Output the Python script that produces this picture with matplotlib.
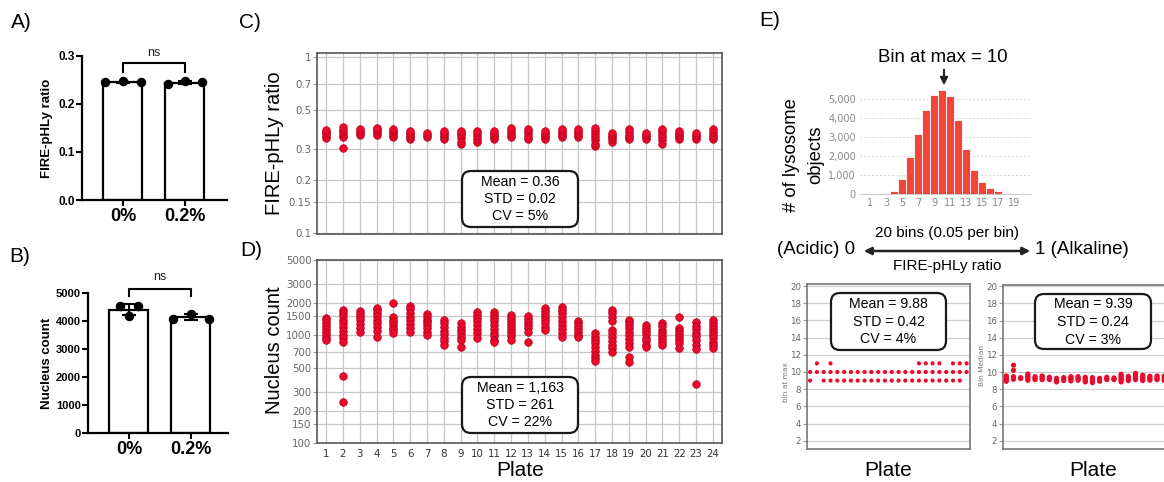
import matplotlib
matplotlib.use("Agg")
import matplotlib.pyplot as plt
from matplotlib.patches import FancyBboxPatch, FancyArrowPatch
from matplotlib.ticker import NullLocator, FuncFormatter
import numpy as np

# ---------------------------------------------------------------- data
bar_groups = ["0%", "0.2%"]
ratio_points = [[0.245, 0.247, 0.245], [0.241, 0.247, 0.245]]
nucleus_points = [[4520, 4170, 4520], [4070, 4260, 4080]]

plates = list(range(1, 25))

plate_ratio = [
    [0.345, 0.355, 0.365, 0.375, 0.383],
    [0.302, 0.35, 0.36, 0.372, 0.385, 0.398],
    [0.36, 0.368, 0.377, 0.388],
    [0.36, 0.37, 0.38, 0.39, 0.395],
    [0.35, 0.36, 0.37, 0.38, 0.39],
    [0.34, 0.35, 0.36, 0.37, 0.38],
    [0.35, 0.36, 0.37],
    [0.34, 0.35, 0.36, 0.37, 0.38],
    [0.32, 0.33, 0.345, 0.36, 0.37, 0.38],
    [0.33, 0.34, 0.355, 0.37, 0.38],
    [0.34, 0.35, 0.36, 0.37, 0.38],
    [0.35, 0.36, 0.37, 0.385, 0.395],
    [0.34, 0.35, 0.365, 0.38, 0.39],
    [0.34, 0.35, 0.36, 0.37, 0.38],
    [0.35, 0.36, 0.37, 0.38, 0.39],
    [0.35, 0.36, 0.37, 0.38, 0.39],
    [0.31, 0.32, 0.335, 0.35, 0.365, 0.38, 0.395],
    [0.33, 0.34, 0.35, 0.36, 0.37],
    [0.34, 0.35, 0.36, 0.375, 0.39],
    [0.34, 0.35, 0.36, 0.37],
    [0.32, 0.335, 0.35, 0.365, 0.38, 0.39],
    [0.34, 0.35, 0.36, 0.37, 0.38],
    [0.34, 0.35, 0.36, 0.37],
    [0.34, 0.35, 0.36, 0.375, 0.39],
]

plate_nuclei = [
    [1450, 1380, 1300, 1220, 1150, 1080, 1000, 950, 900],
    [1700, 1600, 1500, 1400, 1300, 1200, 1100, 1000, 950, 870, 420, 240],
    [1680, 1580, 1480, 1380, 1280, 1180, 1080],
    [1800, 1700, 1600, 1500, 1400, 1300, 1200, 1100, 960],
    [2000, 1480, 1400, 1320, 1250, 1180, 1110, 1050],
    [1870, 1750, 1600, 1480, 1380, 1280, 1180, 1080],
    [1560, 1480, 1400, 1320, 1240, 1160, 1080, 1000],
    [1400, 1300, 1200, 1100, 1020, 950, 880, 810],
    [1290, 1200, 1120, 1040, 960, 900, 780],
    [1630, 1550, 1450, 1350, 1250, 1150, 1050, 950],
    [1650, 1550, 1450, 1350, 1250, 1150, 1060, 980, 900, 870],
    [1540, 1450, 1360, 1280, 1200, 1120, 1050, 980, 900],
    [1500, 1420, 1330, 1250, 1170, 1080, 870],
    [1780, 1680, 1580, 1480, 1380, 1290, 1200, 1110],
    [1830, 1720, 1600, 1480, 1360, 1250, 1150, 1050, 970],
    [1370, 1300, 1220, 1150, 1080, 1010, 955],
    [1040, 970, 900, 840, 780, 720, 660, 610, 580],
    [1710, 1600, 1480, 1370, 1110, 1040, 960, 890, 820, 760, 700],
    [1400, 1320, 1240, 1160, 1080, 1000, 920, 850, 780, 630, 565],
    [1250, 1170, 1090, 1020, 950, 880, 820, 780],
    [1290, 1210, 1130, 1060, 990, 920, 860, 810],
    [1470, 1180, 1100, 1030, 960, 900, 840, 770],
    [1330, 1230, 1140, 1060, 980, 900, 820, 740, 350],
    [1390, 1300, 1220, 1140, 1070, 1000, 940, 870, 810, 770],
]

hist_bins = list(range(1, 21))
hist_counts = [5, 10, 30, 150, 800, 1916, 3150, 4410, 5210, 5470,
               5120, 3870, 2350, 1270, 610, 314, 140, 52, 20, 15]

plate_bin_at_max = [
    [9, 10], [10, 11], [9, 10], [9, 10, 11], [9, 10], [9, 10], [9, 10], [9, 10],
    [9, 10], [9, 10], [9, 10], [9, 10], [9, 10], [9, 10], [9, 10], [9, 10],
    [9, 10, 11], [9, 10, 11], [9, 10, 11], [9, 10, 11], [9, 10], [9, 10, 11],
    [9, 10, 11], [10, 11],
]

plate_bin_median = [
    [8.93, 9.08, 9.23, 9.38, 9.55],
    [9.16, 9.3, 9.47, 10.2, 10.8],
    [9.24, 9.36],
    [9.05, 9.2, 9.35, 9.5, 9.65, 9.78],
    [9.12, 9.28, 9.47],
    [9.12, 9.27, 9.41, 9.55],
    [9.12, 9.26, 9.4],
    [8.85, 9.0, 9.14, 9.28],
    [9.01, 9.18, 9.36],
    [8.97, 9.1, 9.23, 9.35, 9.47],
    [9.05, 9.19, 9.33, 9.47],
    [8.85, 9.0, 9.12, 9.26, 9.4],
    [8.77, 8.92, 9.07, 9.22, 9.36],
    [8.93, 9.1, 9.28],
    [9.12, 9.26, 9.4],
    [9.12, 9.22, 9.32],
    [8.85, 9.0, 9.15, 9.3, 9.45, 9.6, 9.74],
    [9.01, 9.18, 9.35, 9.51],
    [9.12, 9.26, 9.4, 9.55, 9.7, 9.86],
    [9.01, 9.16, 9.32, 9.48, 9.63],
    [9.05, 9.2, 9.36, 9.51],
    [9.12, 9.26, 9.41, 9.55],
    [9.01, 9.18, 9.36, 9.55],
    [9.1, 9.3, 9.5],
]

ratio_stats = ["Mean = 0.36", "STD = 0.02", "CV = 5%"]
nuclei_stats = ["Mean = 1,163", "STD = 261", "CV = 22%"]
binmax_stats = ["Mean = 9.88", "STD = 0.42", "CV = 4%"]
median_stats = ["Mean = 9.39", "STD = 0.24", "CV = 3%"]

# ---------------------------------------------------------------- layout
W, H = 1164, 482
fig = plt.figure(figsize=(W / 100, H / 100), dpi=100)
SANS = ["Liberation Sans", "DejaVu Sans"]
TICKF = "DejaVu Sans"
RED = "#ec0a2c"
RED_EDGE = "#b5001c"
GRID = "#c6c6c6"
TICKGRAY = "#666666"


def px_axes(l, t, r, b):
    return fig.add_axes([l / W, 1 - b / H, (r - l) / W, (b - t) / H])


def ftext(x, y, s, **kw):
    kw.setdefault("family", SANS)
    kw.setdefault("ha", "center")
    kw.setdefault("va", "center")
    return fig.text(x / W, 1 - y / H, s, **kw)


def stat_box(l, t, r, b, lines, ys, size=10.2):
    box = FancyBboxPatch(((l) / 100, (H - b) / 100), (r - l) / 100, (b - t) / 100,
                         boxstyle="round,pad=0,rounding_size=0.09",
                         transform=fig.dpi_scale_trans, facecolor="white",
                         edgecolor="#1a1a1a", linewidth=1.6, zorder=20)
    fig.add_artist(box)
    cx = (l + r) / 2
    for s, y in zip(lines, ys):
        ftext(cx, y, s, fontsize=size, zorder=21)


# ---------------------------------------------------------------- A / B bar panels
def bar_panel(rect, points, jitter, ylim, yticks, yticklabels, ytick_size, ylabel, ylab_xy,
              bracket, ns_y, xlim):
    ax = px_axes(*rect)
    xs = np.arange(len(points))
    means = [np.mean(p) for p in points]
    sds = [np.std(p, ddof=1) for p in points]
    ax.bar(xs, means, width=0.63, color="white", edgecolor="black", linewidth=1.6, zorder=1)
    ax.errorbar(xs, means, yerr=sds, fmt="none", ecolor="black", elinewidth=1.5,
                capsize=5, capthick=1.5, zorder=3)
    for x, p, jit in zip(xs, points, jitter):
        ax.scatter(x + np.array(jit), p, s=34, color="black", zorder=4, clip_on=False)
    ax.set_xlim(*xlim)
    ax.set_ylim(*ylim)
    for side in ("top", "right"):
        ax.spines[side].set_visible(False)
    for side in ("left", "bottom"):
        ax.spines[side].set_linewidth(1.6)
    ax.set_yticks(yticks)
    ax.set_yticklabels(yticklabels, fontsize=ytick_size, fontweight="bold", family=SANS)
    ax.set_xticks(xs)
    ax.set_xticklabels(bar_groups, fontsize=13, fontweight="bold", family=SANS)
    ax.tick_params(axis="both", width=1.5, length=4, direction="out")
    ax.tick_params(axis="y", pad=1)
    ax.tick_params(axis="x", pad=2)
    b0, b1 = bracket
    ax.plot([0, 0, 1, 1], [b0, b1, b1, b0], color="black", lw=1.5, clip_on=False)
    ax.text(0.5, ns_y, "ns", ha="center", va="center", fontsize=9, family=SANS, color="#222")
    ftext(ylab_xy[0], ylab_xy[1], ylabel, rotation=90, fontsize=9.5, fontweight="bold")
    return ax


bar_panel((82, 56, 227, 200), ratio_points,
          [[-0.29, 0.0, 0.29], [-0.27, 0.0, 0.27]],
          (0, 0.3), [0, 0.1, 0.2, 0.3], ["0.0", "0.1", "0.2", "0.3"], 8.5,
          "FIRE-pHLy ratio", (47, 128), (0.267, 0.285), 0.306, (-0.66, 1.68))

bar_panel((88, 293, 228, 433), nucleus_points,
          [[-0.14, 0.0, 0.14], [-0.29, 0.0, 0.29]],
          (0, 5000), [0, 1000, 2000, 3000, 4000, 5000],
          ["0", "1000", "2000", "3000", "4000", "5000"], 8,
          "Nucleus count", (47, 363), (4893, 5143), 5571, (-0.66, 1.6))

# ---------------------------------------------------------------- C / D plate panels
def plate_panel(rect, data, ylim, yticks, yticklabels, show_x):
    ax = px_axes(*rect)
    ax.set_yscale("log")
    for p, vals in zip(plates, data):
        ax.scatter([p] * len(vals), vals, s=30, color=RED, edgecolor=RED_EDGE,
                   linewidth=0.5, zorder=3)
    ax.set_xlim(0.46, 24.54)
    ax.set_ylim(*ylim)
    ax.set_yticks(yticks)
    ax.set_yticklabels(yticklabels, fontsize=7.4, family=TICKF, color=TICKGRAY)
    ax.yaxis.set_minor_locator(NullLocator())
    ax.set_xticks(plates)
    if show_x:
        ax.set_xticklabels([str(p) for p in plates], fontsize=7.4, family=TICKF, color="#333")
    else:
        ax.set_xticklabels([])
    ax.tick_params(axis="x", length=0, pad=4)
    ax.tick_params(axis="y", length=3, color="#999", pad=1)
    ax.grid(True, color=GRID, linewidth=0.9)
    ax.set_axisbelow(True)
    for s in ax.spines.values():
        s.set_color("#555")
        s.set_linewidth(1.2)
    return ax


plate_panel((317, 53, 722, 234), plate_ratio, (0.0983, 1.054),
            [0.1, 0.15, 0.2, 0.3, 0.5, 0.7, 1], ["0.1", "0.15", "0.2", "0.3", "0.5", "0.7", "1"],
            False)
plate_panel((317, 260, 722, 443), plate_nuclei, (100, 5000),
            [100, 150, 200, 300, 500, 700, 1000, 1500, 2000, 3000, 5000],
            ["100", "150", "200", "300", "500", "700", "1000", "1500", "2000", "3000", "5000"],
            True)

ftext(274, 143, "FIRE-pHLy ratio", rotation=90, fontsize=14.5)
ftext(274, 350, "Nucleus count", rotation=90, fontsize=14.5)
ftext(520, 471, "Plate", fontsize=15)

stat_box(462, 171, 578, 227, ratio_stats, [182, 199, 216])
stat_box(462, 377, 578, 433, nuclei_stats, [388, 405, 422])

# ---------------------------------------------------------------- E histogram
axH = px_axes(860, 87.2, 1031, 194)
axH.bar(hist_bins, hist_counts, width=1.0, color="#f2453a", edgecolor="white", linewidth=0.6, zorder=3)
axH.set_xlim(-0.25, 21.125)
axH.set_ylim(0, 5600)
axH.set_yticks([0, 1000, 2000, 3000, 4000, 5000])
axH.yaxis.set_major_formatter(FuncFormatter(lambda v, _: f"{int(v):,}"))
axH.set_xticks(list(range(1, 20, 2)))
axH.tick_params(axis="both", length=0, labelsize=7, labelcolor="#888", pad=3)
for lab in axH.get_xticklabels() + axH.get_yticklabels():
    lab.set_family(TICKF)
axH.yaxis.grid(True, color="#d4d4d4", linestyle=(0, (2, 2)), linewidth=0.7)
axH.set_axisbelow(True)
for side in ("top", "right", "left"):
    axH.spines[side].set_visible(False)
axH.spines["bottom"].set_color("#cccccc")
axH.spines["bottom"].set_linewidth(0.8)

ftext(943, 58, "Bin at max = 10", fontsize=13.4)
fig.add_artist(FancyArrowPatch((944 / 100, (H - 67) / 100), (944 / 100, (H - 88) / 100),
                               transform=fig.dpi_scale_trans, arrowstyle="-|>",
                               mutation_scale=11, color="#222", linewidth=1.5))
ftext(792, 155, "# of lysosome", rotation=90, fontsize=13.3)
ftext(816, 155, "objects", rotation=90, fontsize=13.3)

ftext(947, 233, "20 bins (0.05 per bin)", fontsize=11)
ftext(855, 250, "(Acidic) 0", fontsize=13.5, ha="right")
ftext(1035, 250, "1 (Alkaline)", fontsize=13.5, ha="left")
fig.add_artist(FancyArrowPatch((861 / 100, (H - 251) / 100), (1033 / 100, (H - 251) / 100),
                               transform=fig.dpi_scale_trans, arrowstyle="<|-|>",
                               mutation_scale=11, color="#222", linewidth=1.8))
ftext(947, 266, "FIRE-pHLy ratio", fontsize=11)

# ---------------------------------------------------------------- E per-plate panels
def bin_panel(rect, data, size, ylabel, ylab_xy):
    ax = px_axes(*rect)
    for p, vals in zip(plates, data):
        ax.scatter([p] * len(vals), vals, s=size, color=RED, edgecolor="none", zorder=3)
    ax.set_xlim(0.5, 24.5)
    ax.set_ylim(1.0, 20.2)
    ax.set_yticks(list(range(2, 21, 2)))
    ax.set_xticks([])
    ax.tick_params(axis="y", length=3, color="#999", labelsize=6.2, labelcolor=TICKGRAY, pad=1)
    for lab in ax.get_yticklabels():
        lab.set_family(TICKF)
    ax.yaxis.grid(True, color="#cfcfcf", linewidth=0.9)
    ax.set_axisbelow(True)
    for s in ax.spines.values():
        s.set_color("#777")
        s.set_linewidth(1.2)
    ftext(ylab_xy[0], ylab_xy[1], ylabel, rotation=90, fontsize=5.3,
          family=TICKF, color="#777")
    return ax


bin_panel((806.7, 284.3, 970, 449.3), plate_bin_at_max, 9, "bin at max", (786, 382))
bin_panel((1002.7, 284.6, 1175, 449.3), plate_bin_median, 14, "Bin Median", (982, 366))

stat_box(831, 293, 946, 350, binmax_stats, [304, 322, 339])
stat_box(1035, 294, 1151, 349, median_stats, [304, 322, 340])

ftext(888, 471, "Plate", fontsize=15)
ftext(1093, 471, "Plate", fontsize=15)

# ---------------------------------------------------------------- panel letters
for letter, x, y in [("A)", 21, 22), ("B)", 20, 256), ("C)", 250, 22), ("D)", 251, 251), ("E)", 770, 21)]:
    ftext(x, y, letter, fontsize=15)

fig.savefig("out.png", dpi=100)
